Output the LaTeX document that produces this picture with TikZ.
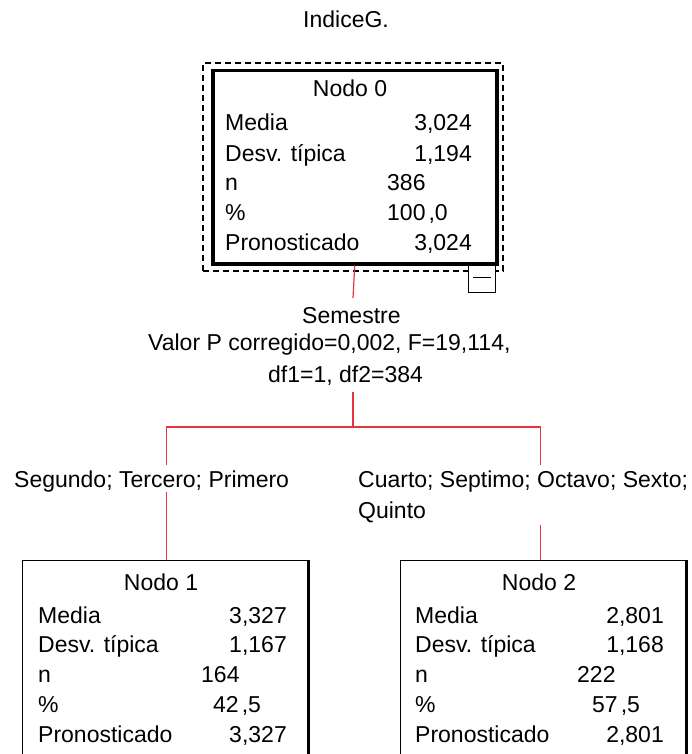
\documentclass[tikz,border=0pt]{standalone}
\usepackage{fontspec}
\setmainfont{Liberation Sans}
\definecolor{linkred}{RGB}{232,50,64}
\begin{document}
\begin{tikzpicture}[x=1pt,y=-1pt,
  every node/.style={font=\fontsize{23}{28}\selectfont, inner sep=0pt},
  txt/.style={anchor=base west},
  val/.style={anchor=base east},
  ctr/.style={anchor=base},
  selbox/.style={draw, line width=2pt, dash pattern=on 6pt off 4pt, minimum width=300pt, minimum height=208pt, anchor=north west},
  thickbox/.style={draw, line width=3.5pt, minimum width=284pt, minimum height=193pt, anchor=north west},
  collbox/.style={draw, fill=white, line width=1.3pt, minimum width=27pt, minimum height=30pt, anchor=north west},
  leafbox/.style={draw, line width=1.3pt, minimum width=285pt, minimum height=240pt, anchor=north west},
  link/.style={draw=linkred, line width=1.2pt},
  cutlabel/.style={fill=white, align=left, anchor=north west, inner xsep=2pt, inner ysep=0pt}]
\useasboundingbox (0,0) rectangle (691,754);
\clip (0,0) rectangle (691,754);

% title
\node[ctr] (title) at (346,28) {IndiceG.};

% node 0
\node[selbox] (n0sel) at (202,62) {};
\node[collbox] (coll) at (468,262) {};
\draw[line width=1.5pt] ([xshift=-9pt]coll.center) -- ([xshift=9pt]coll.center);
\node[thickbox] (n0) at (211,69) {};
\node[ctr] (n0t) at (350,97) {Nodo 0};
\node[txt] (n0l1) at (225,131) {Media};
\node[txt] (n0l2) at (225,161) {Desv. típica};
\node[txt] (n0l3) at (225,190) {n};
\node[txt] (n0l4) at (225,220) {\%};
\node[txt] (n0l5) at (225,250) {Pronosticado};
\node[val] (n0v1) at (472,131) {3,024};
\node[val] (n0v2) at (472,161) {1,194};
\node[txt] (n0v3) at (387,190) {386};
\node[txt] (n0v4) at (387,220) {100\hspace{3pt},0};
\node[val] (n0v5) at (472,250) {3,024};

% split text
\node[txt] (sp1) at (302,323) {Semestre};
\node[txt] (sp2) at (148,350) {Valor P corregido=0,002, F=19,114,};
\node[txt] (sp3) at (268,382) {df1=1, df2=384};

% leaf boxes
\node[leafbox] (n1) at (22,560) {};
\node[leafbox] (n2) at (400,560) {};
\draw[line width=2.6pt] (n1.north east) -- (n1.south east);
\draw[line width=2.6pt] (n2.north east) -- (n2.south east);

% connectors
\coordinate (s1) at (353,298);
\coordinate (s2) at (353,392);
\coordinate (hb) at (353,427);
\draw[link] (n0.south) -- (s1);
\draw[link] (s2) -- (hb);
\draw[link] ([xshift=1.5pt]n1.north) |- (hb) -| ([xshift=-2.5pt]n2.north);

% branch labels
\node[cutlabel] (b1) at (12,465) {\rule{0pt}{22pt}Segundo; Tercero; Primero\rule[-5pt]{0pt}{5pt}};
\node[cutlabel, font=\fontsize{23}{31}\selectfont] (b2) at (356,465) {\rule{0pt}{22pt}Cuarto; Septimo; Octavo; Sexto;\\Quinto\rule[-7pt]{0pt}{7pt}};

% node 1 text
\node[ctr] (n1t) at (161,590) {Nodo 1};
\node[txt] (n1l1) at (38,623) {Media};
\node[txt] (n1l2) at (38,652) {Desv. típica};
\node[txt] (n1l3) at (38,682) {n};
\node[txt] (n1l4) at (38,712) {\%};
\node[txt] (n1l5) at (38,742) {Pronosticado};
\node[val] (n1v1) at (287,623) {3,327};
\node[val] (n1v2) at (287,652) {1,167};
\node[txt] (n1v3) at (201,682) {164};
\node[txt] (n1v4) at (213,712) {42\hspace{3pt},5};
\node[val] (n1v5) at (287,742) {3,327};

% node 2 text
\node[ctr] (n2t) at (539,590) {Nodo 2};
\node[txt] (n2l1) at (415,623) {Media};
\node[txt] (n2l2) at (415,652) {Desv. típica};
\node[txt] (n2l3) at (415,682) {n};
\node[txt] (n2l4) at (415,712) {\%};
\node[txt] (n2l5) at (415,742) {Pronosticado};
\node[val] (n2v1) at (664,623) {2,801};
\node[val] (n2v2) at (664,652) {1,168};
\node[txt] (n2v3) at (577,682) {222};
\node[txt] (n2v4) at (592,712) {57\hspace{3pt},5};
\node[val] (n2v5) at (664,742) {2,801};
\end{tikzpicture}
\end{document}
